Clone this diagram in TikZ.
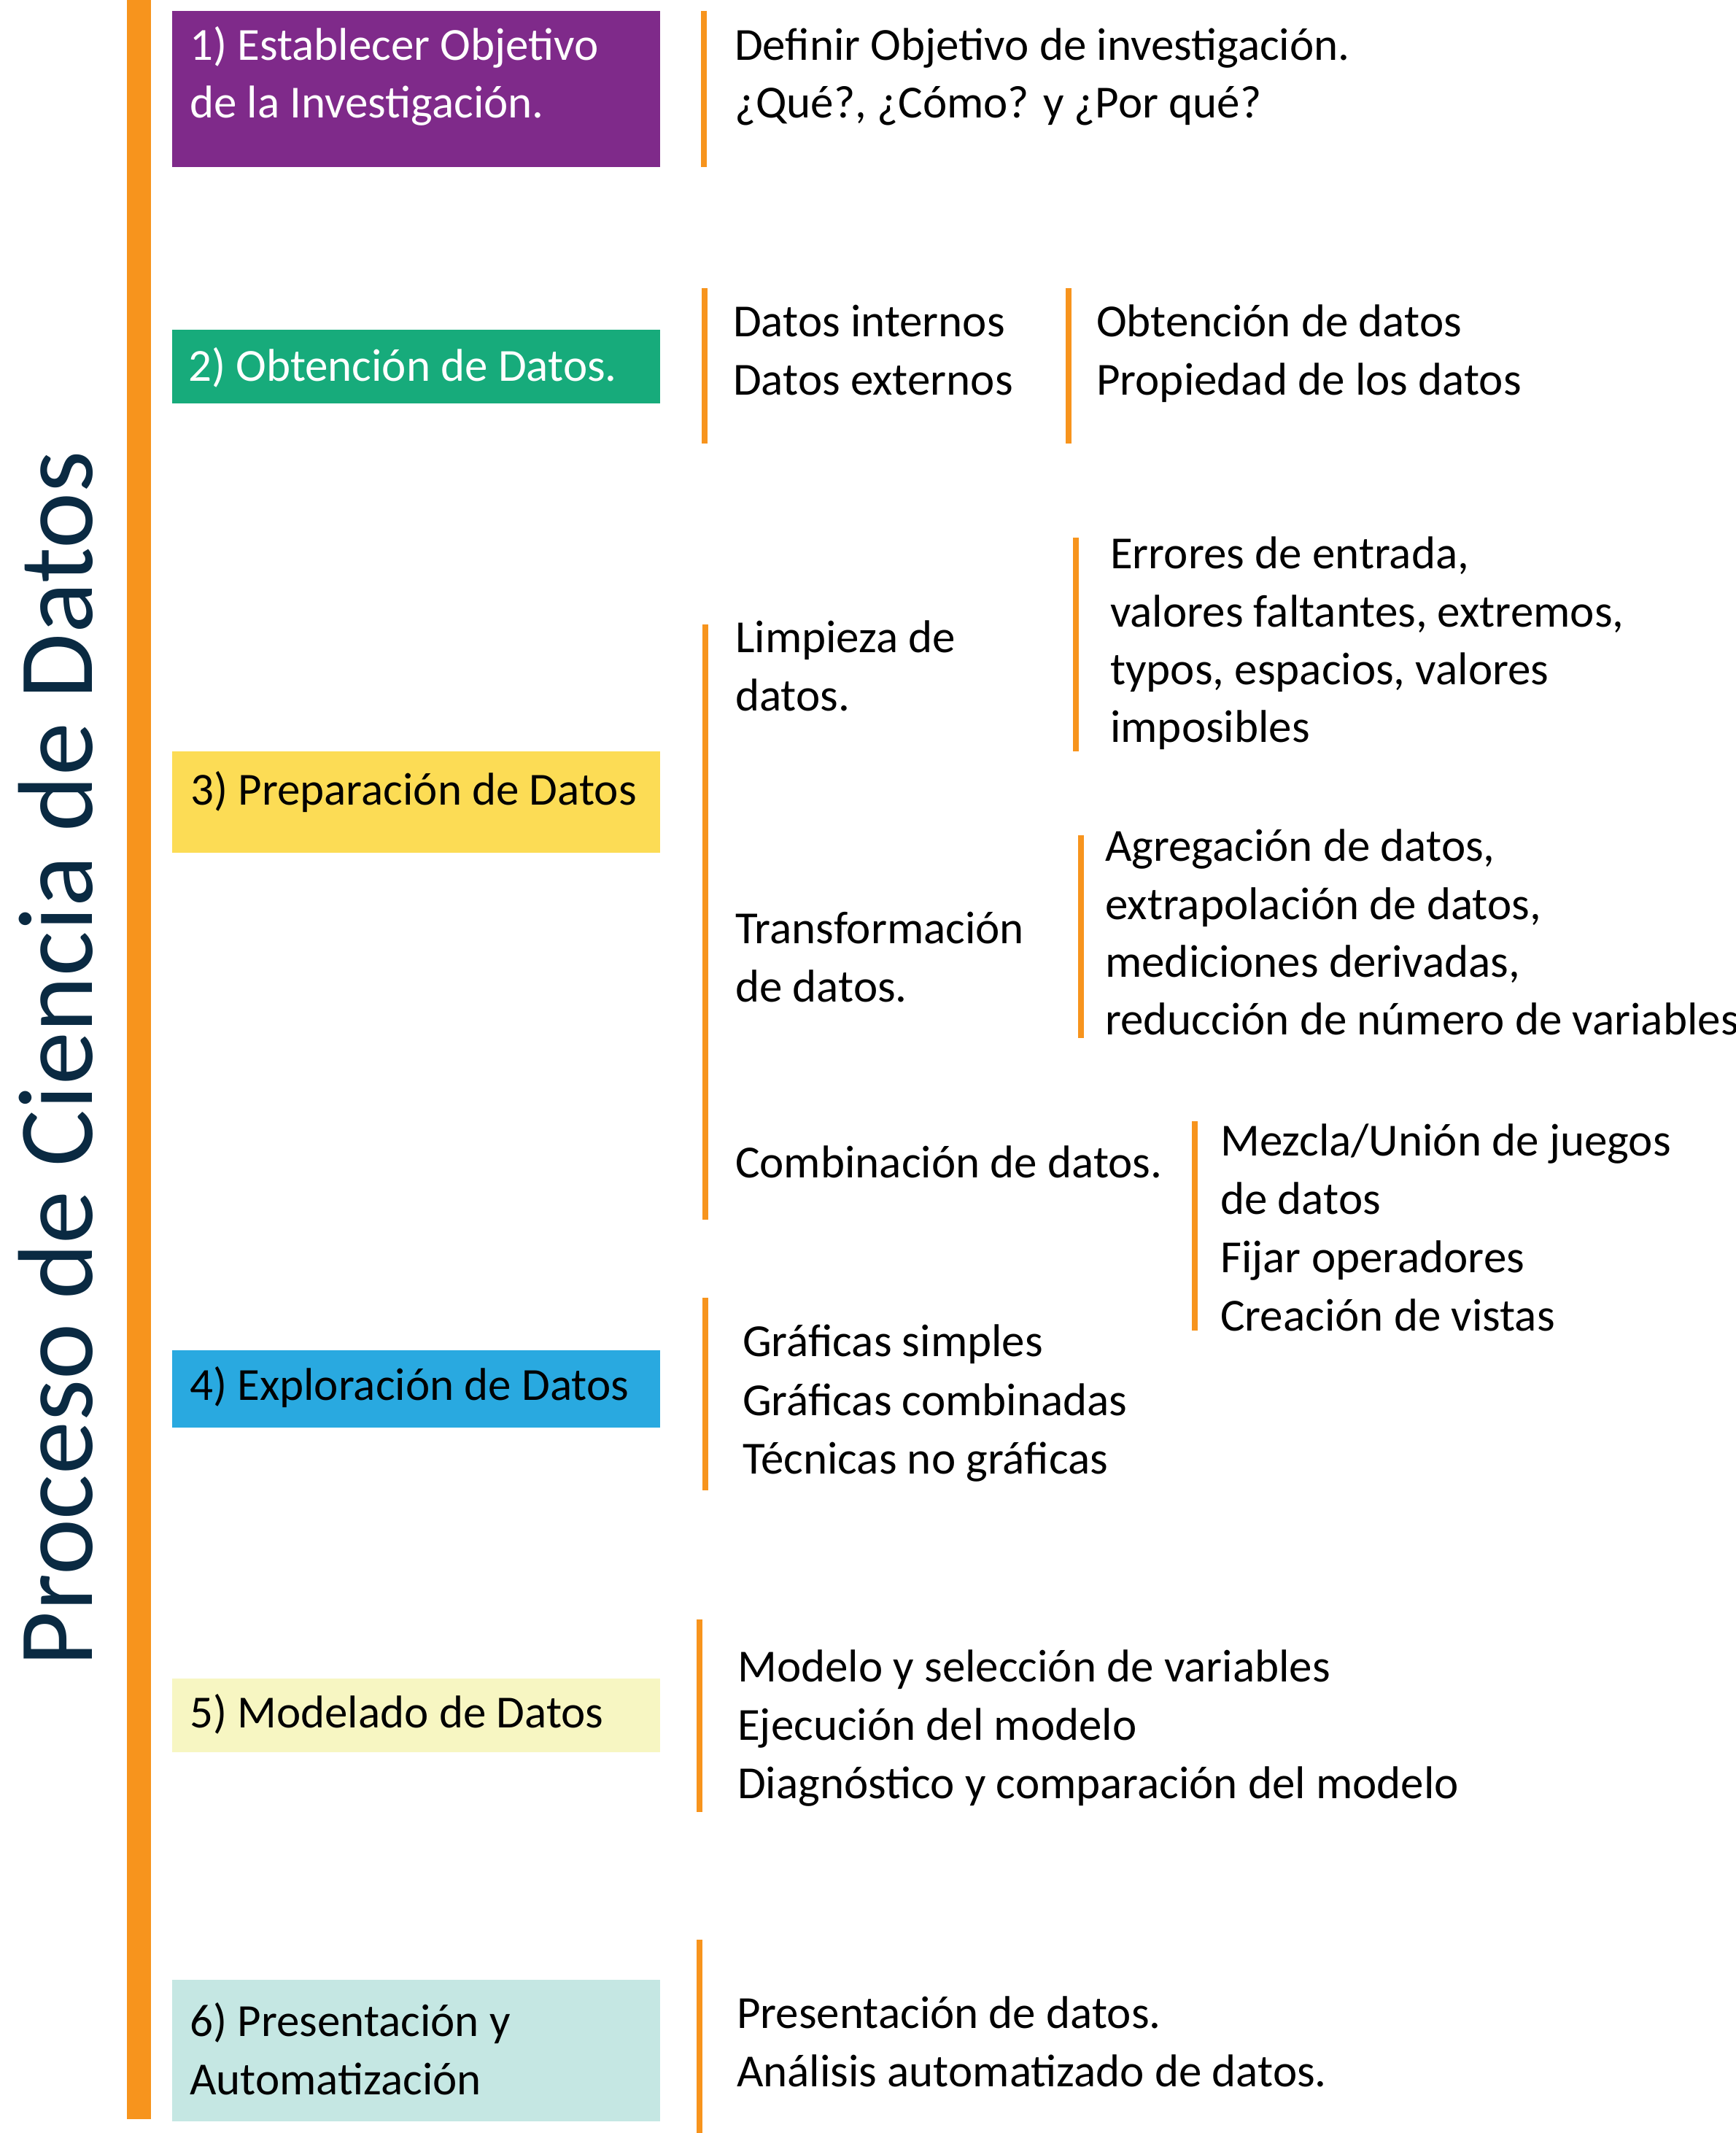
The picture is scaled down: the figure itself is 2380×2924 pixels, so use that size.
\documentclass[tikz,border=0pt]{standalone}
\usepackage{fontspec}
\setmainfont{Carlito}
\definecolor{purpleC}{HTML}{7F2A8A}
\definecolor{greenC}{HTML}{17AB7B}
\definecolor{yellowC}{HTML}{FCDC55}
\definecolor{blueC}{HTML}{29A9E0}
\definecolor{lyellowC}{HTML}{F7F6C2}
\definecolor{tealC}{HTML}{C5E7E3}
\definecolor{orangeC}{HTML}{F7941D}
\definecolor{navyC}{HTML}{0A2A42}
\begin{document}
\begin{tikzpicture}[x=1pt,y=-1pt,
  stagebox/.style={rectangle, draw=none, inner sep=0pt, anchor=north west, minimum width=669pt},
  txt/.style={anchor=base west, inner sep=0pt, font=\fontsize{63}{80}\selectfont, text=black},
  wtxt/.style={txt, text=white},
  bar/.style={draw=orangeC, line width=8pt}]
\useasboundingbox (0,0) rectangle (2380,2924);
\fill[white] (0,0) rectangle (2380,2924);
% main bar
\fill[orangeC] (174,0) rectangle (207,2905);
% title
\node[rotate=90, anchor=base, inner sep=0pt, font=\fontsize{146}{146}\selectfont, text=navyC] (title) at (126,1451) {Proceso de Ciencia de Datos};
% boxes
\node[stagebox, fill=purpleC, minimum height=214pt] (b1) at (236,14.5) {};
\node[stagebox, fill=greenC, minimum height=101pt] (b2) at (236,451.5) {};
\node[stagebox, fill=yellowC, minimum height=139pt] (b3) at (236,1030) {};
\node[stagebox, fill=blueC, minimum height=106pt] (b4) at (236,1851) {};
\node[stagebox, fill=lyellowC, minimum height=101pt] (b5) at (236,2301) {};
\node[stagebox, fill=tealC, minimum height=194pt] (b6) at (236,2714) {};
% box texts
\node[wtxt] (b1a) at (260,82) {1) Establecer Objetivo};
\node[wtxt] (b1b) at (260,161) {de la Investigación.};
\node[wtxt] (b2a) at (258,522) {2) Obtención de Datos.};
\node[txt] (b3a) at (261,1103) {3) Preparación de Datos};
\node[txt] (b4a) at (260,1919) {4) Exploración de Datos};
\node[txt] (b5a) at (260,2368) {5) Modelado de Datos};
\node[txt] (b6a) at (260,2791) {6) Presentación y};
\node[txt] (b6b) at (260,2871) {Automatización};
% orange lines
\draw[bar] (965,14.5) -- (965,228.5);
\draw[bar] (965.5,395) -- (965.5,608);
\draw[bar] (1464.5,395) -- (1464.5,608);
\draw[bar] (966.5,856) -- (966.5,1672);
\draw[bar] (1475,737) -- (1475,1030);
\draw[bar] (1481.5,1145) -- (1481.5,1423);
\draw[bar] (1637.5,1537) -- (1637.5,1824);
\draw[bar] (967,1779) -- (967,2043);
\draw[bar] (959,2220) -- (959,2484);
\draw[bar] (959,2659) -- (959,2924);
% section 1
\node[txt] (t1a) at (1007,82) {Definir Objetivo de investigación.};
\node[txt] (t1b) at (1007,161) {¿Qué?, ¿Cómo? y ¿Por qué?};
% section 2
\node[txt] (t2a) at (1005,461) {Datos internos};
\node[txt] (t2b) at (1005,541) {Datos externos};
\node[txt] (t2c) at (1503,461) {Obtención de datos};
\node[txt] (t2d) at (1503,541) {Propiedad de los datos};
% section 3
\node[txt] (t3a) at (1008,894) {Limpieza de};
\node[txt] (t3b) at (1008,974) {datos.};
\node[txt] (t3c) at (1522,779) {Errores de entrada,};
\node[txt] (t3d) at (1522,859) {valores faltantes, extremos,};
\node[txt] (t3e) at (1522,938) {typos, espacios, valores};
\node[txt] (t3f) at (1522,1017) {imposibles};
\node[txt] (t3g) at (1008,1293) {Transformación};
\node[txt] (t3h) at (1008,1373) {de datos.};
\node[txt] (t3i) at (1515,1180) {Agregación de datos,};
\node[txt] (t3j) at (1515,1260) {extrapolación de datos,};
\node[txt] (t3k) at (1515,1339) {mediciones derivadas,};
\node[txt] (t3l) at (1515,1418) {reducción de número de variables};
\node[txt] (t3m) at (1008,1614) {Combinación de datos.};
\node[txt] (t3n) at (1673,1584) {Mezcla/Unión de juegos};
\node[txt] (t3o) at (1673,1664) {de datos};
\node[txt] (t3p) at (1673,1744) {Fijar operadores};
\node[txt] (t3q) at (1673,1824) {Creación de vistas};
% section 4
\node[txt] (t4a) at (1018,1859) {Gráficas simples};
\node[txt] (t4b) at (1018,1940) {Gráficas combinadas};
\node[txt] (t4c) at (1018,2020) {Técnicas no gráficas};
% section 5
\node[txt] (t5a) at (1011,2305) {Modelo y selección de variables};
\node[txt] (t5b) at (1011,2385) {Ejecución del modelo};
\node[txt] (t5c) at (1011,2465) {Diagnóstico y comparación del modelo};
% section 6
\node[txt] (t6a) at (1010,2780) {Presentación de datos.};
\node[txt] (t6b) at (1010,2860) {Análisis automatizado de datos.};
\end{tikzpicture}
\end{document}
